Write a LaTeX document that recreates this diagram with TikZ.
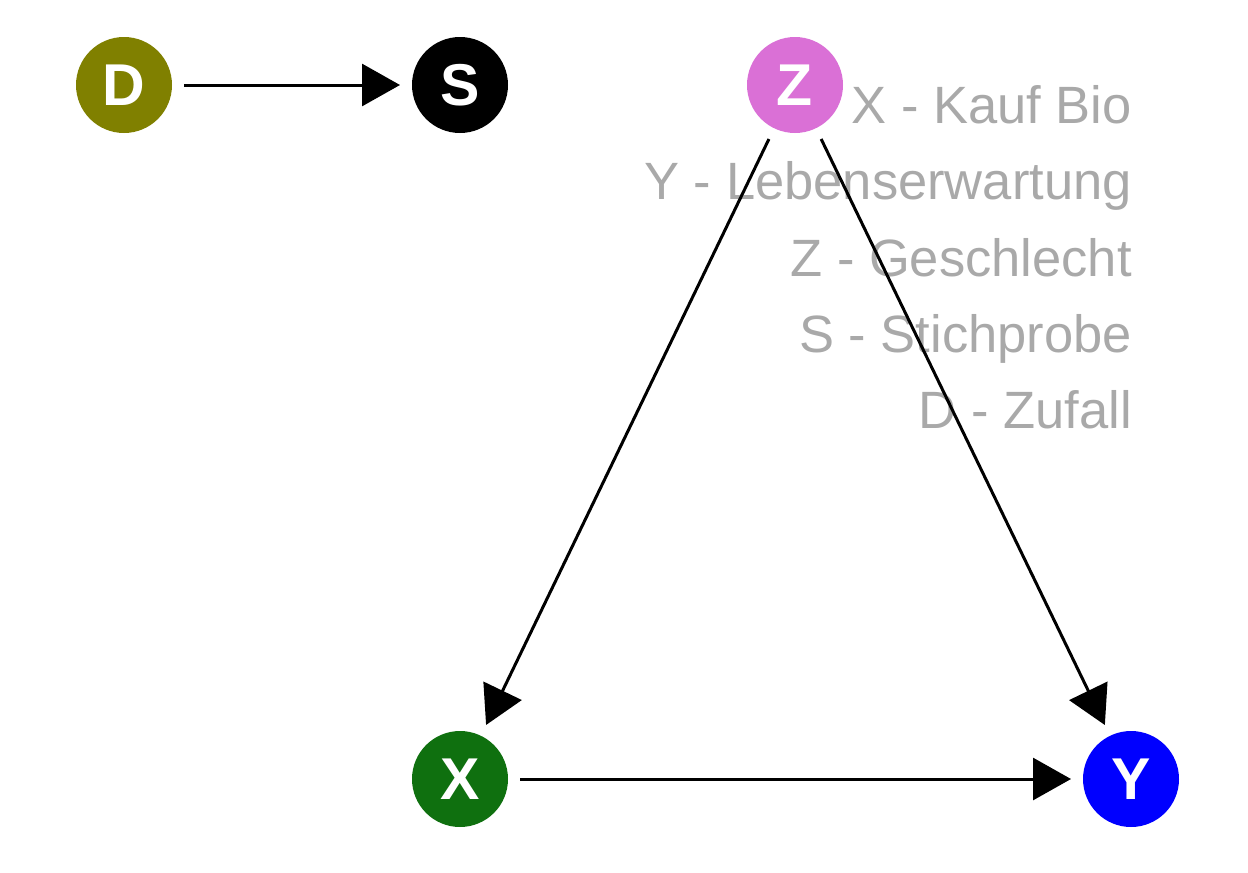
\documentclass[tikz,border=0pt]{standalone}
\usepackage{fontspec}
\setmainfont{Liberation Sans}
\usetikzlibrary{arrows.meta}
\definecolor{zufallcol}{HTML}{808000}
\definecolor{geschlcol}{HTML}{DA70D6}
\definecolor{kaufcol}{HTML}{0F700F}
\definecolor{lebencol}{HTML}{0000FF}
\definecolor{legendcol}{HTML}{A9A9A9}
\begin{document}
\begin{tikzpicture}[x=1pt,y=-1pt,
    var/.style={circle,minimum size=96pt,inner sep=0pt,outer sep=12pt,
      text=white,font=\fontsize{59}{59}\selectfont\bfseries},
    edge/.style={-{Triangle[length=38pt,width=42pt]},line width=3pt},
    legend/.style={anchor=base east,inner sep=0pt,text=legendcol,
      font=\fontsize{52.5}{60}\selectfont}]
    \useasboundingbox (0,0) rectangle (1248,873);
    % variables
    \node[var,fill=zufallcol] (D) at (124,85) {D};
    \node[var,fill=black] (S) at (460,85) {S};
    \node[var,fill=geschlcol] (Z) at (795,85) {Z};
    \node[var,fill=kaufcol] (X) at (460,779) {X};
    \node[var,fill=lebencol] (Y) at (1131,779) {Y};
    % legend
    \node[legend] (legX) at (1132,123) {X - Kauf Bio};
    \node[legend] (legY) at (1132,199.5) {Y - Lebenserwartung};
    \node[legend] (legZ) at (1132,276) {Z - Geschlecht};
    \node[legend] (legS) at (1132,352) {S - Stichprobe};
    \node[legend] (legD) at (1132,428.5) {D - Zufall};
    % edges
    \draw[edge] (D) -- (S);
    \draw[edge] (Z) -- (X);
    \draw[edge] (Z) -- (Y);
    \draw[edge] (X) -- (Y);
\end{tikzpicture}
\end{document}
